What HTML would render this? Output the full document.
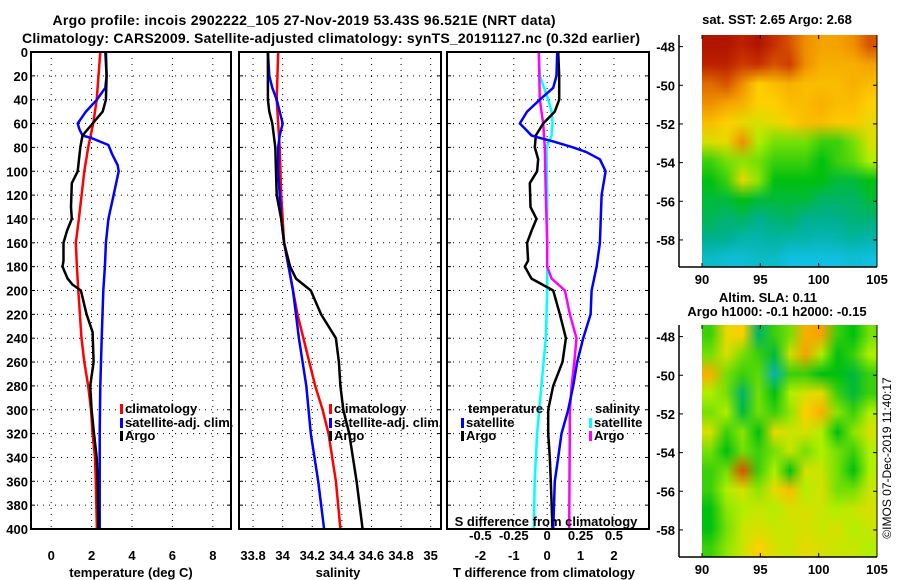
<!DOCTYPE html>
<html><head><meta charset="utf-8">
<style>
html,body{margin:0;padding:0;background:#fff;}
#wrap{position:relative;width:900px;height:580px;overflow:hidden;font-family:"Liberation Sans",sans-serif;}
canvas{position:absolute;}
svg{position:absolute;left:0;top:0;}
text{font-family:"Liberation Sans",sans-serif;font-weight:bold;font-size:13px;fill:#000;}
</style></head>
<body>
<div id="wrap">
<canvas id="sstMap" width="175" height="232" style="left:702px;top:35px"></canvas>
<canvas id="slaMap" width="175" height="232" style="left:702px;top:325px"></canvas>
<svg id="fig" width="900" height="580" xmlns="http://www.w3.org/2000/svg">
<text x="304" y="25" text-anchor="middle" style="font-size:14px" textLength="503">Argo profile: incois 2902222_105 27-Nov-2019 53.43S 96.521E (NRT data)</text>
<text x="331" y="43" text-anchor="middle" style="font-size:14px" textLength="618">Climatology: CARS2009. Satellite-adjusted climatology: synTS_20191127.nc (0.32d earlier)</text>
</svg>
</div>
<script>
// ---------- DATA ----------
const depthTicks = [0,20,40,60,80,100,120,140,160,180,200,220,240,260,280,300,320,340,360,380,400];
const tTicks = [0,2,4,6,8];
const sTicks = [33.8,34,34.2,34.4,34.6,34.8,35];
const dTicks = [-2,-1,0,1,2];
const sdTicks = [-0.5,-0.25,0,0.25,0.5];
const sdTickLabels = ["-0.5","-0.25","0","0.25","0.5"];

const climTdepth = [0,40,60,80,100,140,160,180,200,240,260,280,300,320,340,360,400];
const climT = [2.43,2.25,2.08,1.83,1.64,1.37,1.22,1.27,1.34,1.5,1.64,1.83,1.97,2.05,2.17,2.21,2.26];
const satTdepth = [0,20,30,40,50,60,65,70,72,78,85,95,100,120,140,160,180,200,240,280,320,400];
const satT = [2.68,2.74,2.68,2.26,1.72,1.31,1.4,1.55,1.97,2.83,3.0,3.29,3.34,3.09,2.83,2.71,2.66,2.58,2.5,2.43,2.4,2.4];
const argoTdepth = [0,20,40,50,60,70,80,100,110,130,140,150,160,175,180,190,195,200,220,235,260,280,300,320,340,360,400];
const argoT = [2.71,2.74,2.71,2.55,2.05,1.55,1.44,1.31,1.02,0.98,1.02,0.78,0.61,0.61,0.56,0.81,1.05,1.47,1.75,2.05,2.1,1.93,2.0,2.12,2.25,2.3,2.33];

const climSdepth = [0,40,80,120,160,180,200,220,240,260,280,300,320,360,400];
const climS = [33.97,33.96,33.98,33.99,34.01,34.04,34.07,34.10,34.14,34.18,34.22,34.27,34.31,34.36,34.39];
const satSdepth = [0,20,30,40,50,60,70,80,100,140,160,180,200,240,280,320,360,400];
const satS = [33.90,33.91,33.93,33.96,33.98,34.0,33.98,33.97,33.97,33.99,34.01,34.04,34.07,34.11,34.16,34.19,34.24,34.28];
const argoSdepth = [0,40,50,60,80,120,140,160,180,190,200,220,240,260,280,300,320,360,400];
const argoS = [33.90,33.90,33.91,33.93,33.95,33.96,33.99,34.01,34.05,34.09,34.19,34.26,34.36,34.38,34.39,34.41,34.45,34.50,34.54];

const dSatTdepth = [0,20,30,40,50,60,65,70,72,75,80,84,90,100,120,160,180,200,220,240,260,280,300,320,340,360,400];
const dSatT = [0.3,0.28,0.18,-0.22,-0.6,-0.82,-0.64,-0.47,-0.22,0.18,0.78,1.18,1.58,1.75,1.63,1.58,1.48,1.33,1.3,1.08,0.9,0.78,0.63,0.43,0.33,0.23,0.18];
const dArgoTdepth = [0,20,40,50,60,70,80,90,100,110,130,140,150,160,175,180,190,200,220,240,260,280,300,320,340,360,400];
const dArgoT = [0.33,0.36,0.36,0.23,-0.12,-0.34,-0.37,-0.27,-0.3,-0.52,-0.5,-0.32,-0.47,-0.6,-0.57,-0.67,-0.47,0.18,0.38,0.56,0.46,0.18,0.03,0.03,0.08,0.11,0.16];
const dSatSdepth = [0,20,40,50,60,70,80,120,200,240,280,320,360,400];
const dSatS = [-0.063,-0.055,0.008,0.033,0.04,0.033,-0.005,0,0,-0.01,-0.043,-0.075,-0.093,-0.1];
const dArgoSdepth = [0,40,60,80,120,160,180,190,200,220,240,260,280,300,400];
const dArgoS = [-0.063,-0.055,-0.03,-0.018,-0.01,0,0,0.033,0.133,0.17,0.22,0.203,0.183,0.17,0.165];

const latTicks = [-48,-50,-52,-54,-56,-58];
const lonTicks = [90,95,100,105];
const sstGrid = [
[0.97,0.97,0.95,0.97,0.93,0.9,0.85,0.82,0.82,0.85,0.9],
[0.95,0.95,0.92,0.93,0.9,0.92,0.85,0.8,0.8,0.8,0.82],
[0.88,0.9,0.85,0.75,0.78,0.8,0.78,0.78,0.78,0.8,0.78],
[0.85,0.82,0.8,0.75,0.75,0.78,0.78,0.8,0.78,0.78,0.75],
[0.78,0.75,0.72,0.7,0.72,0.75,0.78,0.78,0.76,0.76,0.72],
[0.7,0.72,0.85,0.65,0.6,0.6,0.6,0.55,0.55,0.6,0.7],
[0.55,0.6,0.62,0.6,0.55,0.55,0.55,0.5,0.55,0.58,0.65],
[0.5,0.55,0.72,0.62,0.5,0.5,0.5,0.5,0.45,0.45,0.5],
[0.45,0.45,0.5,0.45,0.45,0.45,0.45,0.4,0.4,0.4,0.45],
[0.42,0.38,0.4,0.35,0.38,0.4,0.35,0.35,0.35,0.38,0.38],
[0.35,0.35,0.3,0.3,0.32,0.3,0.3,0.28,0.3,0.32,0.3],
[0.25,0.22,0.22,0.25,0.25,0.2,0.2,0.2,0.2,0.22,0.2]];
const slaGrid = [
[0.55,0.72,0.75,0.4,0.55,0.6,0.8,0.82,0.55,0.5,0.6],
[0.6,0.7,0.6,0.55,0.45,0.68,0.82,0.65,0.5,0.55,0.65],
[0.8,0.6,0.55,0.58,0.3,0.55,0.55,0.5,0.5,0.45,0.55],
[0.65,0.6,0.4,0.6,0.5,0.65,0.7,0.72,0.55,0.45,0.55],
[0.6,0.65,0.45,0.6,0.55,0.62,0.75,0.8,0.62,0.55,0.65],
[0.7,0.55,0.62,0.5,0.72,0.68,0.7,0.65,0.5,0.62,0.7],
[0.6,0.5,0.6,0.55,0.6,0.68,0.6,0.65,0.6,0.55,0.65],
[0.55,0.6,0.9,0.55,0.65,0.5,0.7,0.68,0.6,0.5,0.65],
[0.55,0.65,0.7,0.62,0.72,0.78,0.65,0.7,0.6,0.6,0.68],
[0.5,0.62,0.65,0.68,0.65,0.7,0.7,0.68,0.65,0.68,0.7],
[0.5,0.6,0.68,0.7,0.68,0.68,0.7,0.68,0.7,0.65,0.68],
[0.55,0.62,0.68,0.75,0.7,0.68,0.72,0.7,0.68,0.68,0.65]];

// ---------- GEOMETRY ----------
const NS = "http://www.w3.org/2000/svg";
const svg = document.getElementById('fig');
const Y0 = 52, Y1 = 529;
const yD = d => Y0 + d * (Y1 - Y0) / 400;
function mk(tag, attrs, parent) {
  const e = document.createElementNS(NS, tag);
  for (const k in attrs) e.setAttribute(k, attrs[k]);
  (parent || svg).appendChild(e);
  return e;
}
function txt(x, y, s, anchor, parent) {
  const t = mk('text', {x: x, y: y, 'text-anchor': anchor || 'middle'}, parent);
  t.textContent = s;
  return t;
}
function panel(name, x0, x1, vmin, vmax) {
  const g = mk('g', {});
  
  
  return {g: g, x0: x0, x1: x1, sx: v => x0 + (v - vmin) * (x1 - x0) / (vmax - vmin)};
}
function grid(p, xt) {
  depthTicks.forEach(d => {
    const l = mk('line', {x1: p.x0, x2: p.x1, y1: yD(d), y2: yD(d), stroke: '#000', 'stroke-width': 1, 'stroke-dasharray': '1,5'}, p.g);
    
    
    mk('line', {x1: p.x0, x2: p.x0 + 4, y1: yD(d), y2: yD(d), stroke: '#000'}, p.g);
    mk('line', {x1: p.x1, x2: p.x1 - 4, y1: yD(d), y2: yD(d), stroke: '#000'}, p.g);
  });
  xt.forEach(v => {
    const l = mk('line', {x1: p.sx(v), x2: p.sx(v), y1: Y0, y2: Y1, stroke: '#000', 'stroke-width': 1, 'stroke-dasharray': '1,5'}, p.g);
    
    
  });
}
function frame(p) {
  const r = mk('rect', {x: p.x0, y: Y0, width: p.x1 - p.x0, height: Y1 - Y0, fill: 'none', stroke: '#000', 'stroke-width': 2}, p.g);
  
  
}
function series(p, depths, vals, color, name, conv) {
  const pts = depths.map((d, i) => p.sx(conv ? conv(vals[i]) : vals[i]).toFixed(1) + ',' + yD(d).toFixed(1)).join(' ');
  const pl = mk('polyline', {points: pts, fill: 'none', stroke: color, 'stroke-width': 2.5, 'stroke-linejoin': 'round'}, p.g);
  
  
}
function legendItem(p, x, y, color, label, name) {
  const g = mk('g', {}, p.g);
  
  
  mk('rect', {x: x, y: y - 9, width: 3, height: 10, fill: color}, g);
  txt(x + 5, y, label, 'start', g);
}

// Panel 1: temperature
const p1 = panel('temperature-panel', 31, 231, -1, 8.9);
grid(p1, tTicks);
series(p1, climTdepth, climT, '#ff0000', 'climatology-temperature-line');
series(p1, satTdepth, satT, '#0000ff', 'satellite-adj-temperature-line');
series(p1, argoTdepth, argoT, '#000000', 'argo-temperature-line');
frame(p1);
depthTicks.forEach(d => { const t = txt(28, yD(d) + 5, String(d), 'end', p1.g);   });
tTicks.forEach(v => txt(p1.sx(v), 560, String(v), 'middle', p1.g));
const t1 = txt(131, 577, 'temperature (deg C)', 'middle', p1.g);


legendItem(p1, 120, 413, '#ff0000', 'climatology', 'legend-climatology');
legendItem(p1, 120, 427, '#0000ff', 'satellite-adj. clim.', 'legend-satellite-adj');
legendItem(p1, 120, 440, '#000000', 'Argo', 'legend-argo');

// Panel 2: salinity
const p2 = panel('salinity-panel', 239, 441, 33.705, 35.07);
grid(p2, sTicks);
series(p2, climSdepth, climS, '#ff0000', 'climatology-salinity-line');
series(p2, satSdepth, satS, '#0000ff', 'satellite-adj-salinity-line');
series(p2, argoSdepth, argoS, '#000000', 'argo-salinity-line');
frame(p2);
sTicks.forEach(v => txt(p2.sx(v), 560, String(v), 'middle', p2.g));
const t2 = txt(338, 577, 'salinity', 'middle', p2.g);


legendItem(p2, 329, 413, '#ff0000', 'climatology', 'legend-climatology-s');
legendItem(p2, 329, 427, '#0000ff', 'satellite-adj. clim.', 'legend-satellite-adj-s');
legendItem(p2, 329, 440, '#000000', 'Argo', 'legend-argo-s');

// Panel 3: differences
const p3 = panel('difference-panel', 447, 649, -3, 3.05);
grid(p3, dTicks);
const s2t = s => s * 4;
series(p3, dSatSdepth, dSatS, '#00ffff', 'satellite-salinity-diff-line', s2t);
series(p3, dArgoSdepth, dArgoS, '#ff00ff', 'argo-salinity-diff-line', s2t);
series(p3, dArgoTdepth, dArgoT, '#000000', 'argo-temperature-diff-line');
series(p3, dSatTdepth, dSatT, '#0000ff', 'satellite-temperature-diff-line');
frame(p3);
dTicks.forEach(v => txt(p3.sx(v), 560, String(v), 'middle', p3.g));
sdTicks.forEach((v, i) => txt(p3.sx(s2t(v)), 540, sdTickLabels[i], 'middle', p3.g));
const t3 = txt(546, 526, 'S difference from climatology', 'middle', p3.g);


const t4 = txt(544, 577, 'T difference from climatology', 'middle', p3.g);


txt(468, 413, 'temperature', 'start', p3.g);
legendItem(p3, 461, 427, '#0000ff', 'satellite', 'legend-temperature-satellite');
legendItem(p3, 461, 440, '#000000', 'Argo', 'legend-temperature-argo');
txt(595, 413, 'salinity', 'start', p3.g);
legendItem(p3, 589, 427, '#00ffff', 'satellite', 'legend-salinity-satellite');
legendItem(p3, 589, 440, '#ff00ff', 'Argo', 'legend-salinity-argo');

// ---------- MAPS ----------
const stops = [[0,[16,96,255]],[0.2,[16,192,224]],[0.35,[0,176,144]],[0.5,[0,192,16]],[0.65,[176,240,0]],[0.75,[255,208,0]],[0.85,[240,144,0]],[0.93,[200,48,0]],[1,[160,0,0]]];
function cmap(v) {
  for (let i = 1; i < stops.length; i++) {
    if (v <= stops[i][0]) {
      const a = stops[i-1], b = stops[i], f = (v - a[0]) / (b[0] - a[0]);
      return a[1].map((c, k) => Math.round(c + (b[1][k] - c) * f));
    }
  }
  return stops[stops.length-1][1];
}
function drawMap(id, gridVals) {
  const rows = gridVals.length, cols = gridVals[0].length;
  const off = document.createElement('canvas');
  off.width = cols; off.height = rows;
  const oc = off.getContext('2d');
  const img = oc.createImageData(cols, rows);
  gridVals.forEach((row, r) => row.forEach((v, c) => {
    const col = cmap(v), i = (r * cols + c) * 4;
    img.data[i] = col[0]; img.data[i+1] = col[1]; img.data[i+2] = col[2]; img.data[i+3] = 255;
  }));
  oc.putImageData(img, 0, 0);
  const cv = document.getElementById(id);
  const ctx = cv.getContext('2d');
  ctx.imageSmoothingEnabled = true;
  ctx.drawImage(off, 0, 0, cols, rows, 0, 0, cv.width, cv.height);
}
drawMap('sstMap', sstGrid);
drawMap('slaMap', slaGrid);

function mapAxes(name, top, bottom) {
  const g = mk('g', {});
  
  
  const lx = lon => 702 + (lon - 90) * 175 / 15;
  const ly = lat => top + (-47.4 - lat) * (bottom - top) / 12;
  mk('line', {x1: 679, x2: 679, y1: top, y2: bottom, stroke: '#000', 'stroke-width': 1.5}, g);
  mk('line', {x1: 679, x2: 877, y1: bottom, y2: bottom, stroke: '#000', 'stroke-width': 1.5}, g);
  mk('line', {x1: 877, x2: 877, y1: top, y2: bottom, stroke: '#000', 'stroke-width': 1}, g);
  latTicks.forEach(l => {
    mk('line', {x1: 679, x2: 683, y1: ly(l), y2: ly(l), stroke: '#000'}, g);
    mk('line', {x1: 877, x2: 873, y1: ly(l), y2: ly(l), stroke: '#000'}, g);
    txt(675, ly(l) + 5, String(l), 'end', g);
  });
  lonTicks.forEach(l => {
    mk('line', {x1: lx(l), x2: lx(l), y1: bottom, y2: bottom - 4, stroke: '#000'}, g);
    mk('line', {x1: lx(l), x2: lx(l), y1: top, y2: top + 4, stroke: '#000'}, g);
    txt(lx(l), bottom + 17, String(l), 'middle', g);
  });
}
mapAxes('sst-map-axes', 35, 267);
mapAxes('sla-map-axes', 325, 557);
const mt1 = txt(777, 24, 'sat. SST: 2.65 Argo: 2.68', 'middle');


const mt2 = txt(768, 302, 'Altim. SLA: 0.11', 'middle');


const mt3 = txt(777, 316, 'Argo h1000: -0.1 h2000: -0.15', 'middle');


const stamp = mk('text', {x: 0, y: 0, 'text-anchor': 'middle', transform: 'translate(891,458) rotate(-90)', style: 'font-weight:normal;font-size:12px'});
stamp.textContent = '\u00a9IMOS 07-Dec-2019 11:40:17';


</script>
</body></html>
